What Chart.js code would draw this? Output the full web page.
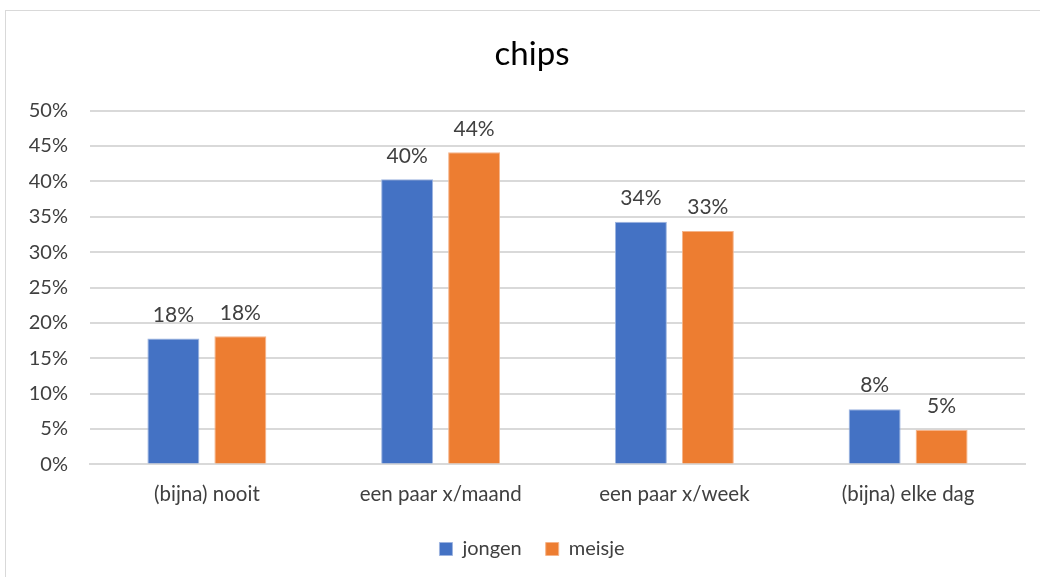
<!DOCTYPE html>
<html>
<head>
<meta charset="utf-8">
<script src="https://cdn.jsdelivr.net/npm/chart.js"></script>
<style>
  html, body { margin: 0; padding: 0; background: #fff; overflow: hidden; }
  #box {
    position: absolute; left: 5px; top: 10px;
    width: 1060px; height: 570px;
    border: 1px solid #d9d9d9; box-sizing: border-box;
  }
  #wrap { position: absolute; left: 0; top: 0; width: 1052px; height: 567px; }
</style>
</head>
<body>
<div id="box"><div id="wrap"><canvas id="chipsChart"></canvas></div></div>
<script>
// categorieën en waarden (in %)
var categories = ['(bijna) nooit', 'een paar x/maand', 'een paar x/week', '(bijna) elke dag'];
var jongen = [17.8, 40.3, 34.3, 7.8];
var meisje = [18.1, 44.1, 33.0, 4.9];
var yTicks = [0, 5, 10, 15, 20, 25, 30, 35, 40, 45, 50];

var fontFam = "Lato, 'Open Sans', sans-serif";

// labels boven de staven
var barLabels = {
    id: 'barLabels',
    afterLayout: function(chart) {
        // y-as labels mogen buiten de as-box vallen (anders afgeknipt)
        chart.scales.y.left = 0;
    },
    afterDatasetsDraw: function(chart) {
        var ctx = chart.ctx;
        ctx.save();
        ctx.font = '21px ' + fontFam;
        ctx.fillStyle = '#404040';
        ctx.textAlign = 'center';
        ctx.textBaseline = 'bottom';
        chart.data.datasets.forEach(function(ds, i) {
            chart.getDatasetMeta(i).data.forEach(function(bar, j) {
                ctx.fillText(Math.round(ds.data[j]) + '%', bar.x, bar.y - 13);
            });
        });
        ctx.restore();
    }
};

var chipsChart = new Chart(document.getElementById('chipsChart'), {
    type: 'bar',
    data: {
        labels: categories,
        datasets: [{
            label: 'jongen',
            data: jongen,
            backgroundColor: '#4472C4',
            borderColor: '#9db4e0',
            borderWidth: 1
        }, {
            label: 'meisje',
            data: meisje,
            backgroundColor: '#ED7D31',
            borderColor: '#f5b48a',
            borderWidth: 1
        }]
    },
    options: {
        responsive: true,
        maintainAspectRatio: false,
        animation: false,
        categoryPercentage: 0.573,
        barPercentage: 0.776,
        layout: { padding: { left: 33, right: 33, top: 8, bottom: 9 } },
        plugins: {
            title: {
                display: true,
                text: 'chips',
                color: '#000',
                font: { family: fontFam, size: 33, weight: 'normal' },
                padding: { top: 16, bottom: 36 }
            },
            legend: {
                position: 'bottom',
                labels: {
                    color: '#404040',
                    font: { family: fontFam, size: 20 },
                    boxWidth: 13,
                    boxHeight: 13,
                    padding: 24
                }
            },
            tooltip: { enabled: false }
        },
        scales: {
            x: {
                grid: { display: false },
                border: { color: '#d9d9d9', width: 2 },
                ticks: { color: '#404040', font: { family: fontFam, size: 20.5 }, padding: 10 },
                afterFit: function(axis) { axis.height -= 2; }
            },
            y: {
                min: 0,
                max: 50,
                afterBuildTicks: function(axis) {
                    axis.ticks = yTicks.map(function(v) { return { value: v }; });
                },
                afterFit: function(axis) { axis.width = 51; },
                grid: { color: '#d9d9d9', lineWidth: 2, drawTicks: false },
                border: { display: false },
                ticks: {
                    color: '#404040',
                    font: { family: fontFam, size: 20 },
                    padding: 22,
                    callback: function(v) { return v + '%'; }
                }
            }
        }
    },
    plugins: [barLabels]
});
</script>
</body>
</html>
